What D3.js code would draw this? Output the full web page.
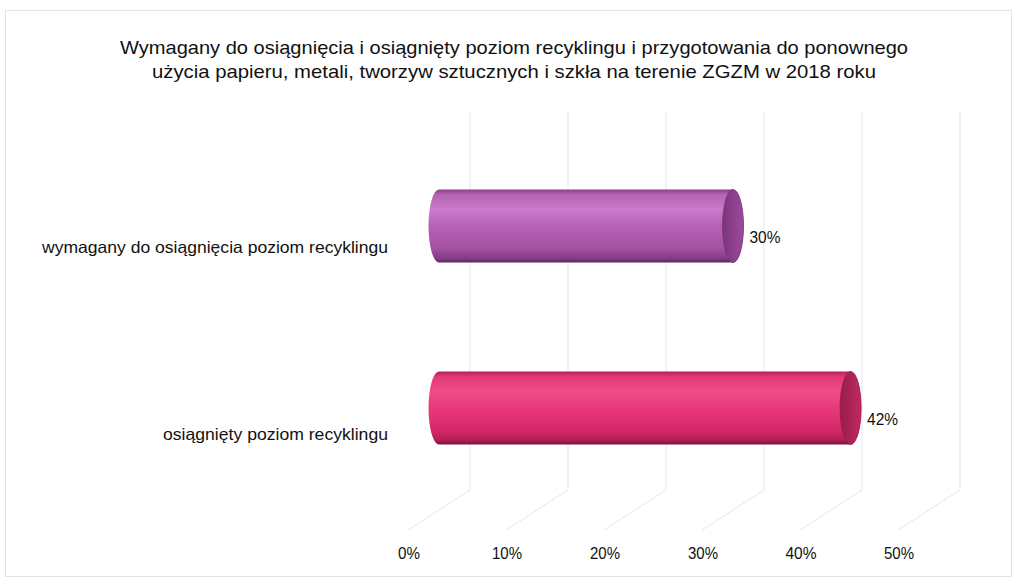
<!DOCTYPE html>
<html>
<head>
<meta charset="utf-8">
<script src="https://cdn.jsdelivr.net/npm/d3@7"></script>
<style>
  html, body { margin: 0; padding: 0; background: #fff; }
  svg { display: block; }
  text { font-family: "Liberation Sans", Arial, sans-serif; fill: #111; }
</style>
</head>
<body>
<svg id="chart" width="1014" height="580"></svg>
<script>
// ---- data ----
const titleLines = [
  "Wymagany do osiągnięcia i osiągnięty poziom recyklingu i przygotowania do ponownego",
  "użycia papieru, metali, tworzyw  sztucznych i szkła na terenie ZGZM w  2018 roku"
];
const categories = ["wymagany do osiągnięcia poziom recyklingu", "osiągnięty poziom recyklingu"];
const values = [0.30, 0.42];
const valueLabels = ["30%", "42%"];
const ticks = [0, 0.1, 0.2, 0.3, 0.4, 0.5];
const tickLabels = ["0%", "10%", "20%", "30%", "40%", "50%"];

// ---- layout ----
const svg = d3.select("#chart");
const depthDx = 31;           // half depth offset (x) of 3D projection
const wallTop = 112, wallBottom = 490, floorFront = 530;

const x = d3.scaleLinear().domain([0, 0.5]).range([439, 929]);       // bar (mid-depth) plane
const xBack = v => x(v) + depthDx;
const xFront = v => x(v) - depthDx;
const y = d3.scalePoint().domain(categories).range([226, 408]);       // bar centres
const yLabel = d3.scalePoint().domain(categories).range([247, 434]);  // category labels (front)
const barH = 73, rx = 10.5;

// outer frame
svg.append("rect").attr("x", 5.5).attr("y", 10.5).attr("width", 1006).attr("height", 566)
  .attr("fill", "none").attr("stroke", "#e2e2e2").attr("stroke-width", 1);

// title
const title = svg.append("text").attr("text-anchor", "middle").style("font-size", "19px");
const tw = [788, 724];
titleLines.forEach((t, i) => {
  title.append("tspan").attr("x", 514).attr("y", 54 + i * 24).text(t)
    .attr("textLength", tw[i]).attr("lengthAdjust", "spacingAndGlyphs");
});

// gridlines: back wall + floor
const grid = svg.append("g").attr("stroke", "#e6e6e6").attr("stroke-width", 1).attr("fill", "none");
ticks.forEach(v => {
  grid.append("path").attr("d",
    `M${xBack(v)},${wallTop} L${xBack(v)},${wallBottom} L${xFront(v)},${floorFront}`);
});

// tick labels
const tickW = [22, 30, 30, 30, 31, 30];
svg.append("g").selectAll("text").data(ticks).join("text")
  .attr("x", d => xFront(d) + 1).attr("y", 559)
  .attr("text-anchor", "middle").style("font-size", "16.5px")
  .attr("textLength", (d, i) => tickW[i]).attr("lengthAdjust", "spacingAndGlyphs")
  .text((d, i) => tickLabels[i]);

// gradients
const defs = svg.append("defs");
const palettes = [
  { body: [["0%", "#8a3f8a"], ["7%", "#b563b5"], ["28%", "#cb7bca"], ["50%", "#b860b7"], ["80%", "#a452a4"], ["94%", "#883d88"], ["100%", "#5a265a"]],
    cap: ["#9b4b9b", "#7a357a"] },
  { body: [["0%", "#b22256"], ["7%", "#e23876"], ["28%", "#f04c88"], ["55%", "#e63678"], ["82%", "#d22867"], ["94%", "#b01f56"], ["100%", "#761437"]],
    cap: ["#c02a62", "#971c4a"] }
];
palettes.forEach((p, i) => {
  const g = defs.append("linearGradient").attr("id", "body" + i)
    .attr("x1", 0).attr("y1", 0).attr("x2", 0).attr("y2", 1);
  p.body.forEach(s => g.append("stop").attr("offset", s[0]).attr("stop-color", s[1]));
  const c = defs.append("linearGradient").attr("id", "cap" + i)
    .attr("x1", 0).attr("y1", 0).attr("x2", 1).attr("y2", 0);
  c.append("stop").attr("offset", "0%").attr("stop-color", p.cap[1]);
  c.append("stop").attr("offset", "100%").attr("stop-color", p.cap[0]);
});

// cylinders
const bars = svg.append("g");
categories.forEach((c, i) => {
  const cy = y(c), top = cy - barH / 2, bot = cy + barH / 2, ry = barH / 2;
  const x0 = x(0), x1 = x(values[i]);
  bars.append("path")
    .attr("d", `M${x0},${top} L${x1},${top} A${rx},${ry} 0 0 1 ${x1},${bot} L${x0},${bot} A${rx},${ry} 0 0 1 ${x0},${top} Z`)
    .attr("fill", `url(#body${i})`);
  bars.append("ellipse").attr("cx", x1).attr("cy", cy).attr("rx", rx).attr("ry", ry)
    .attr("fill", `url(#cap${i})`).attr("stroke", palettes[i].cap[1]).attr("stroke-width", 0.8);
  // value label
  svg.append("text").attr("x", x1 + rx + 6).attr("y", cy + 11)
    .attr("dominant-baseline", "central").style("font-size", "16.5px")
    .attr("textLength", 31).attr("lengthAdjust", "spacingAndGlyphs")
    .text(valueLabels[i]);
});

// category labels
const catW = [346, 225];
svg.append("g").selectAll("text").data(categories).join("text")
  .attr("x", 388).attr("y", d => yLabel(d))
  .attr("text-anchor", "end").attr("dominant-baseline", "central")
  .style("font-size", "16.5px")
  .attr("textLength", (d, i) => catW[i]).attr("lengthAdjust", "spacingAndGlyphs")
  .text(d => d);
</script>
</body>
</html>
